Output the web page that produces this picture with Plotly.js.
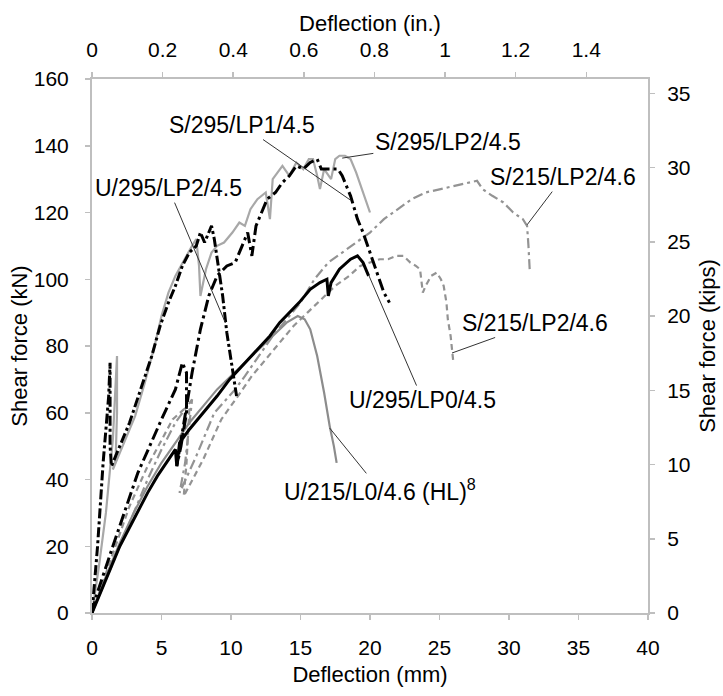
<!DOCTYPE html>
<html>
<head>
<meta charset="utf-8">
<script src="https://cdn.plot.ly/plotly-3.0.1.min.js"></script>
<style>html,body{margin:0;padding:0;background:#fff;}#chart{width:723px;height:696px;}</style>
</head>
<body>
<div id="chart"></div>
<script>
// ---- data (deflection in mm, shear force in kN) ----
const U295LP0_x = [0,0.5,1,2,3,4,4.7,5.5,6.0,6.1,6.3,7,8,9,9.9,11,11.9,12.8,13.5,14.2,14.9,15.7,16.4,16.9,17.0,17.2,17.8,18.6,19.1,19.5,19.9];
const U295LP0_y = [0,5,10,20,28,36,41,46,49,44,51,55,60,65,70,75,79,83,87,90,93,97,99,100,95,99,103,106,107,105,101];

const U215L0_x = [0,1,2,3,4,5,6,7,8,9,10,11,12,13,14,14.8,15.3,15.7,16.2,16.7,17.1,17.4,17.6];
const U215L0_y = [0,11,21,30,38,45,51,57,62,67,71,75,79,83,87,89,88,85,77,66,56,50,45];

const U295LP2_x = [0,0.4,0.8,1.2,1.3,1.3,1.4,2.0,2.7,3.5,4.3,4.9,5.5,6.0,6.5,7.0,7.5,7.8,8.1,8.3,8.6,8.8,9.1,9.4,9.7,10.0,10.3,10.4];
const U295LP2_y = [0,20,45,65,75,50,44,50,57,67,77,86,93,98,104,108,110,114,111,113,116,112,104,95,84,76,68,65];

const S295LP2_x = [0,0.5,1.0,1.5,1.8,1.8,1.7,1.5,2.0,2.5,3.1,3.8,4.5,5.0,5.5,6.0,6.5,6.8,7.2,7.5,7.7,7.8,8.2,8.6,9.0,9.5,10.1,10.6,11.0,11.4,11.9,12.5,12.8,13.0,13.7,14.2,14.7,15.2,15.6,15.9,16.2,16.4,16.7,17.2,17.5,17.8,18.2,18.6,19.0,19.4,19.8,20.0];
const S295LP2_y = [0,14,30,52,77,60,46,43,48,53,59,69,80,89,96,101,105,107,110,112,104,95,103,108,110,111,114,117,116,121,124,126,118,130,134,131,135,133,136,136,131,127,133,130,136,137,137,136,132,127,122,120];

const S295LP1_x = [0,0.3,1.5,3.3,5.0,6.0,6.5,6.8,6.8,6.4,6.1,6.6,7.2,7.8,8.4,9.0,9.7,10.3,10.8,11.2,11.5,11.8,12.2,12.6,13.2,13.7,14.2,14.7,15.2,15.7,16.2,16.5,17.1,17.7,18.0,18.6,19.1,19.5,20.0,20.5,21.0,21.4];
const S295LP1_y = [0,5,20,42,58,67,75,72,60,50,44,57,72,85,95,101,104,105,110,114,107,116,120,124,126,129,131,134,133,135,136,133,133,133,131,125,118,114,108,102,96,93];

const S215a_x = [0,1,2,3,4,5,6,7.2,6.7,6.3,7.5,8.8,10.3,11,12,13,14,15,16,17,18,19,20,21,22,23,24,25,26,27,27.7,28.1,28.8,29.6,30.3,31.0,31.3,31.4,31.5];
const S215a_y = [0,10,20,30,40,49,57,64,45,36,47,60,67,71,77,83,88,93,100,105,108,111,114,118,121,124,126,127,128,129,129.5,127,125,123,120,118,116,110,102];

const S215b_x = [0,1,2,2.7,4,5,5.8,6.6,7.0,6.8,6.6,8.0,9.3,10.5,11.5,12.5,13.5,14.5,15.5,16.5,17.5,18.5,19.3,20.0,20.7,21.3,21.9,22.4,22.9,23.3,23.6,23.8,24.0,24.4,24.8,25.1,25.3,25.5,25.6,25.8,25.9,26.0];
const S215b_y = [0,12,24,32,44,52,58,61,61,45,35,46,58,65,71,76,81,86,90,94,98,101,104,105,106,106,107,107,105,104,103,96,98,101,102,100,98,93,88,83,78,75];

const KN_PER_KIP = 4.448;
const MM_PER_IN = 25.4;
const X_MAX_MM = 40;
const Y_MAX_KN = 160;
const topTicks = [0,0.2,0.4,0.6,0.8,1,1.2,1.4];
const rightTicks = [0,5,10,15,20,25,30,35];

const FONT = 'Arial, "Liberation Sans", sans-serif';

function tr(x, y, color, width, dash) {
  return {x: x, y: y, type: 'scatter', mode: 'lines',
          line: {color: color, width: width, dash: dash},
          showlegend: false, hoverinfo: 'skip'};
}

const data = [
  tr(S215a_x, S215a_y, '#939393', 2.2, '10px,4px,3px,4px'),
  tr(S215b_x, S215b_y, '#939393', 2.2, '6px,4px'),
  tr(U215L0_x, U215L0_y, '#8c8c8c', 2.2, 'solid'),
  tr(S295LP2_x, S295LP2_y, '#a8a8a8', 2.2, 'solid'),
  tr(U295LP0_x, U295LP0_y, '#000000', 3, 'solid'),
  tr(U295LP2_x, U295LP2_y, '#000000', 3, '10px,3px,3px,3px'),
  tr(S295LP1_x, S295LP1_y, '#000000', 3, '12px,4px,3px,4px'),
  {x: [0], y: [0], xaxis: 'x2', yaxis: 'y2', type: 'scatter', mode: 'markers',
   marker: {opacity: 0}, showlegend: false, hoverinfo: 'skip'}
];

const axCommon = {
  showline: true, linecolor: '#bfbfbf', linewidth: 2,
  ticks: 'outside', ticklen: 5, tickcolor: '#bfbfbf', tickwidth: 1.5,
  showgrid: false, zeroline: false,
  tickfont: {family: FONT, size: 21, color: '#000'}
};

function ann(text, tx, ty, hx, hy) {
  return {text: text, x: hx, y: hy, ax: tx, ay: ty, xref: 'x', yref: 'y', axref: 'x', ayref: 'y',
          showarrow: true, arrowhead: 0, arrowwidth: 1, arrowcolor: '#333',
          standoff: 0, startstandoff: 0,
          font: {family: FONT, size: 23, color: '#000'}};
}

const layout = {
  width: 723, height: 696,
  margin: {l: 92, r: 75, t: 79, b: 83, pad: 0},
  paper_bgcolor: '#fff', plot_bgcolor: '#fff',
  showlegend: false,
  font: {family: FONT, color: '#000'},
  xaxis: Object.assign({}, axCommon, {
    range: [0, X_MAX_MM], dtick: 5, tick0: 0, ticklabelstandoff: 10,
    title: {text: 'Deflection (mm)', font: {family: FONT, size: 22}, standoff: 8}
  }),
  yaxis: Object.assign({}, axCommon, {
    range: [0, Y_MAX_KN], dtick: 20, tick0: 0, ticklabelstandoff: 12,
    title: {text: 'Shear force (kN)', font: {family: FONT, size: 22}, standoff: 0}
  }),
  xaxis2: Object.assign({}, axCommon, {
    overlaying: 'x', side: 'top', anchor: 'y',
    range: [0, X_MAX_MM / MM_PER_IN], tickvals: topTicks,
    ticktext: topTicks.map(String), ticklabelstandoff: 7,
    title: {text: 'Deflection (in.)', font: {family: FONT, size: 22}, standoff: 0}
  }),
  yaxis2: Object.assign({}, axCommon, {
    overlaying: 'y', side: 'right', anchor: 'x',
    range: [0, Y_MAX_KN / KN_PER_KIP], tickvals: rightTicks,
    ticklabelstandoff: 8,
    title: {text: 'Shear force (kips)', font: {family: FONT, size: 22}, standoff: 10}
  }),
  annotations: [
    ann('S/295/LP1/4.5', 10.8, 146.2, 18.6, 123.7),
    ann('S/295/LP2/4.5', 25.6, 141.1, 18.0, 136.3),
    ann('U/295/LP2/4.5', 5.5, 127.3, 9.6, 86.9),
    ann('S/215/LP2/4.6', 33.9, 130.6, 31.3, 116.3),
    ann('S/215/LP2/4.6', 31.9, 86.9, 25.9, 77.9),
    ann('U/295/LP0/4.5', 23.8, 63.8, 19.9, 101.3),
    ann('U/215/L0/4.6 (HL)<sup>8</sup>', 20.7, 36.9, 17.1, 55.4)
  ]
};

Plotly.newPlot('chart', data, layout, {displayModeBar: false, staticPlot: true});
</script>
</body>
</html>
